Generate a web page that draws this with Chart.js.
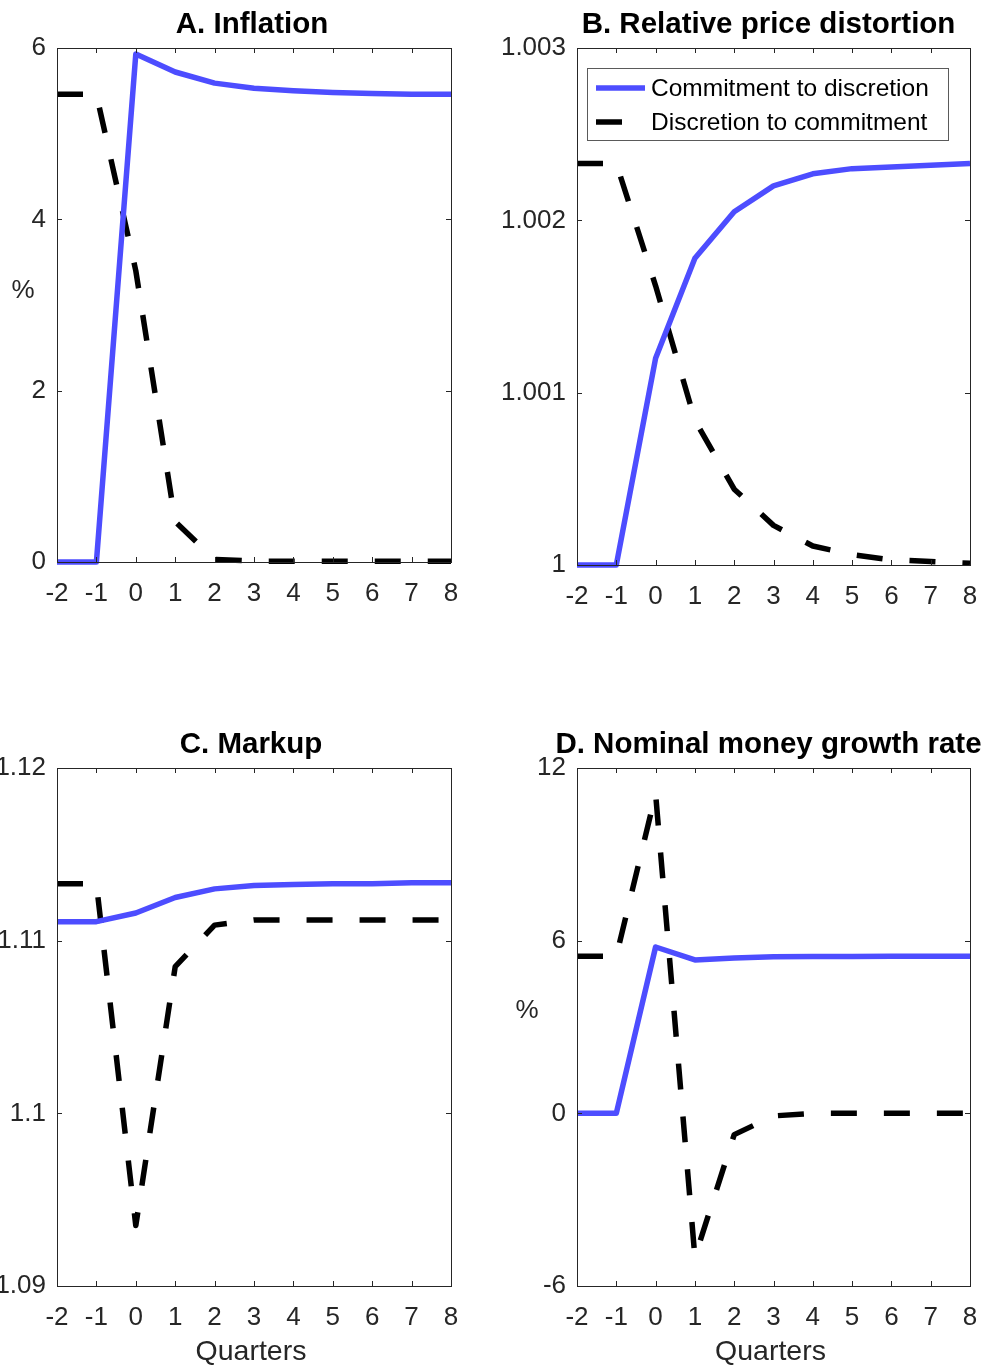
<!DOCTYPE html>
<html>
<head>
<meta charset="utf-8">
<title>Commitment vs discretion transitions</title>
<script src="https://cdn.jsdelivr.net/npm/chart.js@4.4.1/dist/chart.umd.min.js"></script>
<style>
    html, body { margin: 0; padding: 0; background: #fff; }
    #wrap { position: relative; width: 986px; height: 1366px; overflow: hidden; }
    .panel { position: absolute; width: 493px; height: 683px; }
</style>
</head>
<body>
<div id="wrap">
    <div class="panel" style="left:0;top:0"><canvas id="chartA" width="493" height="683"></canvas></div>
    <div class="panel" style="left:493px;top:0"><canvas id="chartB" width="493" height="683"></canvas></div>
    <div class="panel" style="left:0;top:683px"><canvas id="chartC" width="493" height="683"></canvas></div>
    <div class="panel" style="left:493px;top:683px"><canvas id="chartD" width="493" height="683"></canvas></div>
</div>
<script>
// quarters and x tick labels
const quarters = [-2, -1, 0, 1, 2, 3, 4, 5, 6, 7, 8];
const xTickLabels = ['-2', '-1', '0', '1', '2', '3', '4', '5', '6', '7', '8'];

const seriesNames = ['Commitment to discretion', 'Discretion to commitment'];

// A. Inflation (%)
const inflationCommit = [0, 0, 5.93, 5.72, 5.59, 5.53, 5.50, 5.48, 5.47, 5.46, 5.46];
const inflationDiscr = [5.46, 5.46, 3.40, 0.47, 0.03, 0.01, 0.01, 0.01, 0.01, 0.01, 0.01];
const inflationTicks = [0, 2, 4, 6];
const inflationTickLabels = ['0', '2', '4', '6'];

// B. Relative price distortion
const distortionCommit = [1.0, 1.0, 1.00120, 1.00178, 1.00205, 1.00220, 1.00227, 1.00230, 1.00231, 1.00232, 1.00233];
const distortionDiscr = [1.00233, 1.00233, 1.00162, 1.00084, 1.00044, 1.00023, 1.00011, 1.00006, 1.00003, 1.00002, 1.00001];
const distortionTicks = [1.0, 1.001, 1.002, 1.003];
const distortionTickLabels = ['1', '1.001', '1.002', '1.003'];

// C. Markup
const markupCommit = [1.1111, 1.1111, 1.1116, 1.1125, 1.1130, 1.1132, 1.11325, 1.1133, 1.1133, 1.11335, 1.11335];
const markupDiscr = [1.1133, 1.1133, 1.0935, 1.1085, 1.1109, 1.1112, 1.1112, 1.1112, 1.1112, 1.1112, 1.1112];
const markupTicks = [1.09, 1.10, 1.11, 1.12];
const markupTickLabels = ['1.09', '1.1', '1.11', '1.12'];

// D. Nominal money growth rate (%)
const moneyCommit = [0, 0, 5.78, 5.33, 5.40, 5.44, 5.45, 5.45, 5.46, 5.46, 5.46];
const moneyDiscr = [5.46, 5.46, 11.1, -5.0, -0.74, -0.09, 0, 0, 0, 0, 0];
const moneyTicks = [-6, 0, 6, 12];
const moneyTickLabels = ['-6', '0', '6', '12'];

const colors = {
    blue: '#4d4dff',
    black: '#000000',
    axis: '#262626',
    legendEdge: '#5a5a5a'
};
const FONT = '"Liberation Sans", Arial, Helvetica, sans-serif';
const TICK_LEN = 5;

// draws the MATLAB style box, inward ticks, title, axis labels and legend
const matlabFrame = {
    id: 'matlabFrame',
    afterDatasetsDraw(chart, args, o) {
        const { ctx, chartArea: a, scales } = chart;
        const x = scales.x, y = scales.y;
        ctx.save();

        ctx.strokeStyle = colors.axis;
        ctx.lineWidth = 1;
        ctx.beginPath();
        x.ticks.forEach(t => {
            const px = Math.round(x.getPixelForValue(t.value)) + 0.5;
            ctx.moveTo(px, a.bottom); ctx.lineTo(px, a.bottom - TICK_LEN);
            ctx.moveTo(px, a.top); ctx.lineTo(px, a.top + TICK_LEN);
        });
        y.ticks.forEach(t => {
            const py = Math.round(y.getPixelForValue(t.value)) + 0.5;
            ctx.moveTo(a.left, py); ctx.lineTo(a.left + TICK_LEN, py);
            ctx.moveTo(a.right, py); ctx.lineTo(a.right - TICK_LEN, py);
        });
        ctx.stroke();
        ctx.strokeRect(Math.round(a.left) + 0.5, Math.round(a.top) + 0.5,
            Math.round(a.right - a.left), Math.round(a.bottom - a.top));

        const cx = (a.left + a.right) / 2;
        ctx.textBaseline = 'middle';
        ctx.textAlign = 'center';
        ctx.fillStyle = '#000';
        ctx.font = 'bold 29.5px ' + FONT;
        ctx.fillText(o.title, cx + o.titleDx, a.top - 23);

        ctx.fillStyle = colors.axis;
        if (o.ylabel) {
            ctx.font = '26px ' + FONT;
            ctx.fillText(o.ylabel, a.left + o.ylabelDx, a.top + 243);
        }
        if (o.xlabel) {
            ctx.font = '28.5px ' + FONT;
            ctx.fillText(o.xlabel, cx - 3, a.bottom + 66);
        }

        if (o.legend) {
            const lx = a.left + 10, ly = a.top + 20, lw = 361, lh = 72;
            ctx.fillStyle = '#fff';
            ctx.fillRect(lx, ly, lw, lh);
            ctx.strokeStyle = colors.legendEdge;
            ctx.lineWidth = 1;
            ctx.strokeRect(lx + 0.5, ly + 0.5, lw, lh);
            ctx.font = '24.5px ' + FONT;
            ctx.textAlign = 'left';
            chart.data.datasets.forEach((ds, i) => {
                const ry = ly + 20 + i * 34;
                ctx.strokeStyle = ds.borderColor;
                ctx.lineWidth = ds.borderWidth;
                ctx.setLineDash(ds.borderDash || []);
                ctx.beginPath();
                ctx.moveTo(lx + 9, ry);
                ctx.lineTo(lx + 58, ry);
                ctx.stroke();
                ctx.setLineDash([]);
                ctx.fillStyle = '#000';
                ctx.fillText(ds.label, lx + 64, ry + 1);
            });
        }
        ctx.restore();
    }
};

function makePanel(id, p) {
    const canvas = document.getElementById(id);
    const W = canvas.width, H = canvas.height;
    const toPoints = vals => quarters.map((q, i) => ({ x: q, y: vals[i] }));

    return new Chart(canvas, {
        type: 'line',
        data: {
            datasets: [
                {
                    label: seriesNames[0],
                    data: toPoints(p.commit),
                    borderColor: colors.blue,
                    borderWidth: 5.5,
                    borderCapStyle: 'butt',
                    borderJoinStyle: 'round',
                    clip: 4
                },
                {
                    label: seriesNames[1],
                    data: toPoints(p.discr),
                    borderColor: colors.black,
                    borderWidth: 5.5,
                    borderDash: [26, 27],
                    borderCapStyle: 'butt',
                    borderJoinStyle: 'round',
                    clip: 4
                }
            ]
        },
        options: {
            responsive: false,
            animation: false,
            events: [],
            layout: {
                padding: { left: 0, top: p.area.top, right: W - p.area.right, bottom: 0 }
            },
            elements: {
                point: { radius: 0 },
                line: { tension: 0 }
            },
            plugins: {
                legend: { display: false },
                tooltip: { enabled: false },
                matlabFrame: p.frame
            },
            scales: {
                x: {
                    type: 'linear',
                    min: quarters[0],
                    max: quarters[quarters.length - 1],
                    grid: { display: false, drawTicks: false },
                    border: { display: false },
                    afterBuildTicks: s => { s.ticks = quarters.map(v => ({ value: v })); },
                    afterFit: s => {
                        s.height = H - p.area.bottom;
                        s.paddingLeft = 0;
                        s.paddingRight = 0;
                    },
                    ticks: {
                        autoSkip: false,
                        maxRotation: 0,
                        padding: 16,
                        color: colors.axis,
                        font: { family: FONT, size: 26 },
                        callback: (v, i) => xTickLabels[i]
                    }
                },
                y: {
                    type: 'linear',
                    min: p.ticks[0],
                    max: p.ticks[p.ticks.length - 1],
                    grid: { display: false, drawTicks: false },
                    border: { display: false },
                    afterBuildTicks: s => { s.ticks = p.ticks.map(v => ({ value: v })); },
                    afterFit: s => {
                        s.width = p.area.left;
                        s.paddingTop = 0;
                        s.paddingBottom = 0;
                    },
                    ticks: {
                        padding: 11,
                        color: colors.axis,
                        font: { family: FONT, size: 26 },
                        callback: (v, i) => p.tickLabels[i]
                    }
                }
            }
        },
        plugins: [matlabFrame]
    });
}

makePanel('chartA', {
    commit: inflationCommit, discr: inflationDiscr,
    ticks: inflationTicks, tickLabels: inflationTickLabels,
    area: { left: 57, top: 48, right: 451, bottom: 562 },
    frame: { title: 'A. Inflation', titleDx: -2, ylabel: '%', ylabelDx: -34 }
});

makePanel('chartB', {
    commit: distortionCommit, discr: distortionDiscr,
    ticks: distortionTicks, tickLabels: distortionTickLabels,
    area: { left: 84, top: 48, right: 477, bottom: 565 },
    frame: { title: 'B. Relative price distortion', titleDx: -5, legend: true }
});

makePanel('chartC', {
    commit: markupCommit, discr: markupDiscr,
    ticks: markupTicks, tickLabels: markupTickLabels,
    area: { left: 57, top: 85, right: 451, bottom: 603 },
    frame: { title: 'C. Markup', titleDx: -3, xlabel: 'Quarters' }
});

makePanel('chartD', {
    commit: moneyCommit, discr: moneyDiscr,
    ticks: moneyTicks, tickLabels: moneyTickLabels,
    area: { left: 84, top: 85, right: 477, bottom: 603 },
    frame: { title: 'D. Nominal money growth rate', titleDx: -5, ylabel: '%', ylabelDx: -50, xlabel: 'Quarters' }
});
</script>
</body>
</html>
